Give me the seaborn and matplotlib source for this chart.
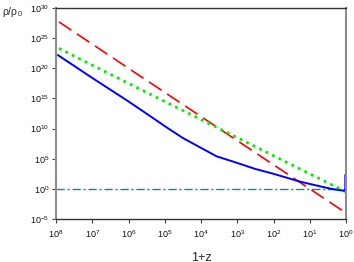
import matplotlib
matplotlib.use("Agg")
import matplotlib.pyplot as plt
import seaborn as sns
import numpy as np
import pandas as pd

# ---- data ----
# 1+z positions (log10) and density ratios (log10)
rad_logx = [7.92, 6.0, 4.0, 2.0, 0.0]
rad_logy = [27.7, 20.0, 12.0, 4.0, -4.0]

mat_logx = [7.92, 6.0, 4.0, 2.0, 0.0]
mat_logy = [23.3, 17.5, 11.5, 5.5, -0.5]

lam_logx = [8.0, 0.0]
lam_logy = [0.0, 0.0]

sf_logx = [7.95, 7.0, 6.0, 5.41, 4.9, 4.49, 4.0, 3.57, 3.0, 2.5, 2.0, 1.27, 0.7, 0.36, 0.1, 0.02, 0.02]
sf_logy = [22.2, 18.4, 14.5, 12.1, 10.0, 8.4, 6.8, 5.4, 4.3, 3.3, 2.5, 1.2, 0.4, -0.05, -0.28, -0.3, 2.3]

xticks_exp = [8, 7, 6, 5, 4, 3, 2, 1, 0]
yticks_exp = [-5, 0, 5, 10, 15, 20, 25, 30]

def frame(lx, ly):
    return pd.DataFrame({"x": np.power(10.0, lx), "y": np.power(10.0, ly)})

sns.set_theme(style="white")
plt.rcParams["font.family"] = ["Liberation Sans", "DejaVu Sans"]
plt.rcParams["mathtext.fontset"] = "custom"
plt.rcParams["mathtext.rm"] = "Liberation Sans"
plt.rcParams["mathtext.it"] = "Liberation Sans:italic"
plt.rcParams["mathtext.default"] = "regular"

fig = plt.figure(figsize=(3.54, 2.62), dpi=100)
ax = fig.add_axes([56/354, 1-219/262, 290/354, 211/262])

sns.lineplot(data=frame(lam_logx, lam_logy), x="x", y="y", ax=ax, color="#138a8a",
             lw=1.0, sort=False, estimator=None, linestyle=(0, (6, 2, 1.5, 2)))
sns.lineplot(data=frame(rad_logx, rad_logy), x="x", y="y", ax=ax, color="#ff0000",
             lw=1.2, sort=False, estimator=None, linestyle=(0, (9, 4)))
sns.lineplot(data=frame(mat_logx, mat_logy), x="x", y="y", ax=ax, color="#00ee00",
             lw=2.0, sort=False, estimator=None, linestyle=(0, (1, 1.6)))
sns.lineplot(data=frame(sf_logx, sf_logy), x="x", y="y", ax=ax, color="#0000ff",
             lw=1.4, sort=False, estimator=None)

ax.set_xscale("log")
ax.set_yscale("log")
ax.set_xlim(1e8, 1e0)
ax.set_ylim(1e-5, 1e30)

ax.set_xticks([10.0**e for e in xticks_exp])
ax.set_xticklabels([f"$10^{{{e}}}$" for e in xticks_exp], fontsize=6.5)
ax.set_yticks([10.0**e for e in yticks_exp])
ax.set_yticklabels([f"$10^{{{e}}}$" for e in yticks_exp], fontsize=6.5)
ax.minorticks_off()
ax.tick_params(axis="both", which="major", direction="out", length=3, width=0.8,
               color="#404040", labelcolor="#111111", left=True, bottom=True)
ax.tick_params(axis="y", pad=2)
ax.tick_params(axis="x", pad=4)

for s in ["left", "right"]:
    ax.spines[s].set_color("#8c8c8c")
    ax.spines[s].set_linewidth(1.5)
for s in ["top", "bottom"]:
    ax.spines[s].set_color("#333333")
    ax.spines[s].set_linewidth(1.0)

ax.set_xlabel("1+z", fontsize=9, labelpad=8)
ax.set_ylabel("")
ax.grid(False)
fig.text(2/354, 1-12/262, r"$\rho/\rho_{\,0}$", fontsize=7.5, ha="left", va="center")

fig.savefig("out.png", dpi=100)
